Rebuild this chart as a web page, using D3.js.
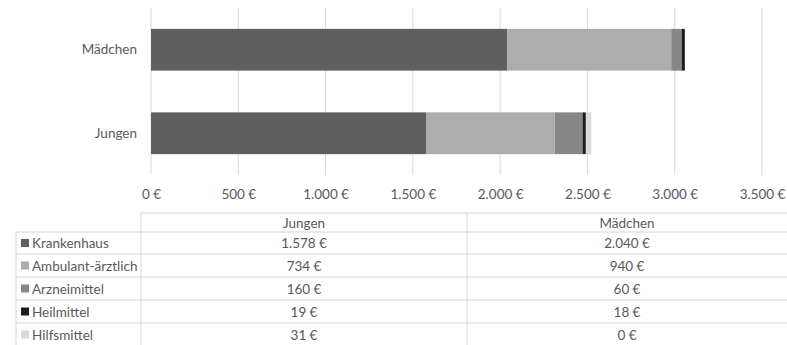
<!DOCTYPE html>
<html><head><meta charset="utf-8">
<script src="https://cdn.jsdelivr.net/npm/d3@7/dist/d3.min.js"></script>
<style>body{margin:0;background:#fff}svg{display:block}</style>
</head><body><svg id="c" width="787" height="345"></svg>
<script>
const categories = ["Mädchen", "Jungen"];
const seriesNames = ["Krankenhaus", "Ambulant-ärztlich", "Arzneimittel", "Heilmittel", "Hilfsmittel"];
const jungen = [1578, 734, 160, 19, 31];
const maedchen = [2040, 940, 60, 18, 0];
const tickValues = [0, 500, 1000, 1500, 2000, 2500, 3000, 3500];
const colors = ["#5f5f5f", "#adadad", "#878787", "#1c1c1c", "#d9d9d9"];
const tableCols = ["Jungen", "Mädchen"];

const fmt = v => d3.format(",")(v).replace(/,/g, ".") + "\u202F€";
const font = "Lato, 'Open Sans', sans-serif";
const fs = "13.5px";
const txt = "#595959";
const svg = d3.select("#c");

const x = d3.scaleLinear().domain([0, 3500]).range([151, 762]);
const y = d3.scaleBand().domain(categories).range([8, 175]).paddingInner(0.5).paddingOuter(0.25);

// gridlines
svg.append("g").selectAll("line").data(tickValues).join("line")
  .attr("x1", d => x(d)).attr("x2", d => x(d)).attr("y1", 8).attr("y2", 175)
  .attr("stroke", "#d9d9d9").attr("stroke-width", 1);

const rows = categories.map(c => {
  const vals = c === "Jungen" ? jungen : maedchen;
  const o = {cat: c};
  seriesNames.forEach((s, i) => o[s] = vals[i]);
  return o;
});
const stack = d3.stack().keys(seriesNames)(rows);
svg.append("g").selectAll("g").data(stack).join("g")
  .attr("fill", (d, i) => colors[i])
  .selectAll("rect").data(d => d).join("rect")
  .attr("x", d => x(d[0])).attr("width", d => x(d[1]) - x(d[0]))
  .attr("y", d => y(d.data.cat)).attr("height", y.bandwidth());

// x axis labels
const xa = svg.append("g").attr("transform", "translate(0,175)")
  .call(d3.axisBottom(x).tickValues(tickValues).tickFormat(fmt).tickSize(0).tickPadding(14));
xa.select(".domain").remove();
xa.selectAll("text").attr("fill", txt).style("font-family", font).style("font-size", fs);

// y axis labels
const ya = svg.append("g").attr("transform", "translate(137,0)")
  .call(d3.axisLeft(y).tickSize(0).tickPadding(0));
ya.select(".domain").remove();
ya.selectAll("text").attr("fill", txt).style("font-family", font).style("font-size", fs);

// data table
const tb = svg.append("g");
const gcol = "#d4d4d4";
const colX = [16, 141, 467, 790];
const rowY = [213, 232, 254, 277, 300, 323, 346];
tb.append("line").attr("x1", colX[1]).attr("x2", colX[3]).attr("y1", rowY[0]).attr("y2", rowY[0]).attr("stroke", gcol);
rowY.slice(1).forEach(yy => tb.append("line").attr("x1", colX[0]).attr("x2", colX[3]).attr("y1", yy).attr("y2", yy).attr("stroke", gcol));
tb.append("line").attr("x1", colX[0]).attr("x2", colX[0]).attr("y1", rowY[1]).attr("y2", 346).attr("stroke", gcol);
tb.append("line").attr("x1", colX[1]).attr("x2", colX[1]).attr("y1", rowY[0]).attr("y2", 346).attr("stroke", gcol);
tb.append("line").attr("x1", colX[2]).attr("x2", colX[2]).attr("y1", rowY[0]).attr("y2", 346).attr("stroke", gcol);

tableCols.forEach((c, j) => {
  tb.append("text").attr("x", (colX[j+1] + Math.min(colX[j+2], 787)) / 2).attr("y", (rowY[0] + rowY[1]) / 2 + 5)
    .attr("text-anchor", "middle").attr("fill", txt).style("font-family", font).style("font-size", fs).text(c);
});
seriesNames.forEach((s, i) => {
  const cy = (rowY[i+1] + rowY[i+2]) / 2;
  tb.append("rect").attr("x", 21).attr("y", cy - 4).attr("width", 8).attr("height", 8).attr("fill", colors[i]);
  tb.append("text").attr("x", 32).attr("y", cy + 5).attr("fill", txt)
    .style("font-family", font).style("font-size", fs).text(s);
  [jungen[i], maedchen[i]].forEach((v, j) => {
    tb.append("text").attr("x", (colX[j+1] + Math.min(colX[j+2], 787)) / 2).attr("y", cy + 5)
      .attr("text-anchor", "middle").attr("fill", txt).style("font-family", font).style("font-size", fs).text(fmt(v));
  });
});
</script></body></html>
